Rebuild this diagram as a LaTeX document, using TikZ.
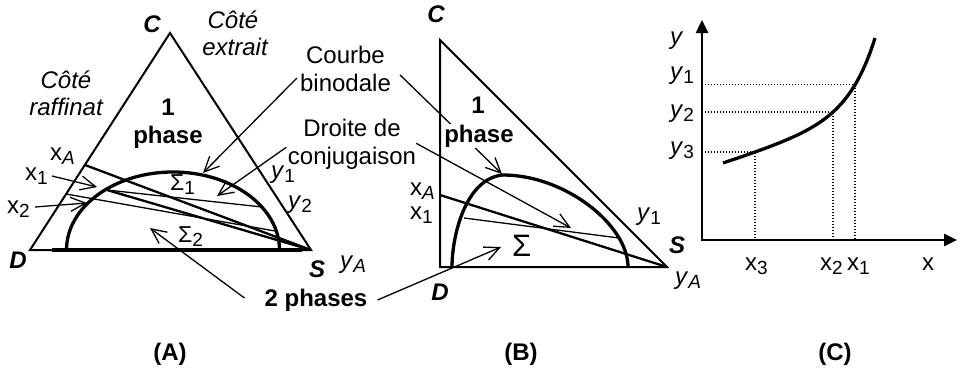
\documentclass[tikz,border=0pt]{standalone}
\usepackage{fontspec}
\setmainfont{Liberation Sans}
\usetikzlibrary{arrows.meta,calc}
\newcommand\lsub[1]{\raisebox{-4pt}{\fontsize{19}{19}\selectfont #1}}
\begin{document}
\begin{tikzpicture}[x=1pt,y=-1pt,
  t/.style={inner sep=0pt, font=\fontsize{24}{27.5}\selectfont},
  tb/.style={inner sep=0pt, font=\fontsize{24}{27.5}\selectfont\bfseries},
  ti/.style={inner sep=0pt, font=\fontsize{24}{27.5}\selectfont\itshape},
  tbi/.style={inner sep=0pt, font=\fontsize{24}{26}\selectfont\bfseries\itshape},
  sig/.style={inner sep=0pt, font=\fontsize{23}{25}\selectfont},
  sigB/.style={inner sep=0pt, font=\fontsize{31}{33}\selectfont},
  tri/.style={line width=2pt, line join=miter},
  binod/.style={line width=3.3pt},
  tiethick/.style={line width=2.3pt},
  tiethin/.style={line width=1.3pt},
  arr/.style={line width=1.3pt, -{Straight Barb[length=15pt,width=14pt]}},
  axis/.style={line width=2.5pt, line join=miter, {Triangle[length=13pt,width=12pt]}-{Triangle[length=13pt,width=12pt]}},
  guide/.style={line width=1.3pt, dash pattern=on 1.3pt off 1.7pt}]
\useasboundingbox (0,0) rectangle (958,380);
\fill[white] (0,0) rectangle (958,380);

%%%%%%%% Panel A
\coordinate (AC) at (170,33);
\coordinate (AD) at (30,250);
\coordinate (AS) at (311,250);
\coordinate (AB1) at (52,250);
\coordinate (AB2) at (302,250);
\draw[tri] (AD) -- (AC) -- (AS) -- cycle;
\draw[line width=4pt] (AB1) -- (AB2);
\draw[binod] (66.5,250) arc[start angle=180, end angle=360, x radius=106.5, y radius=78];
\coordinate (AxA) at (85,165);
\coordinate (Ax1) at (107,190);
\coordinate (Ay1) at (262,207);
\coordinate (Ax2) at (66,194);
\coordinate (Ay2) at (275,231);
\draw[tiethick] (AxA) -- (AS);
\draw[tiethick] (Ax1) -- (AS);
\draw[tiethin] (Ax1) -- (Ay1);
\draw[tiethin] (Ax2) -- (Ay2);

\node[tbi, anchor=base] (lCA) at (152,32) {C};
\node[ti, anchor=base] (ce1) at (233,28) {Côté};
\node[ti, anchor=base] (ce2) at (235,55) {extrait};
\node[ti, anchor=base] (cr1) at (66,88) {Côté};
\node[ti, anchor=base] (cr2) at (66,115) {raffinat};
\node[tb, anchor=base] (ph1A) at (168,115) {1};
\node[tb, anchor=base] (ph2A) at (168,143) {phase};
\node[t, anchor=base west] (lxAA) at (50,160) {x\lsub{\textit{A}}};
\node[t, anchor=base west] (lx1A) at (25,180) {x\lsub{1}};
\node[t, anchor=base west] (lx2A) at (7,213) {x\lsub{2}};
\node[t, anchor=base west] (ly1A) at (271,178) {\textit{y}\lsub{1}};
\node[t, anchor=base west] (ly2A) at (288,208) {\textit{y}\lsub{2}};
\node[sig, anchor=base west] (s1) at (170,190) {Σ\lsub{1}};
\node[sig, anchor=base west] (s2) at (178,242) {Σ\lsub{2}};
\node[tbi, anchor=base] (lDA) at (18,268) {D};
\node[tbi, anchor=base] (lSA) at (317,277) {S};
\node[t, anchor=base west] (lyAA) at (340,268) {\textit{y}\lsub{\textit{A}}};
\node[t, align=center] (cb) at (345.5,69) {Courbe\\binodale};
\node[t, align=center] (dc) at (352,144.3) {Droite de\\conjugaison};
\node[tb, anchor=base] (tp) at (316,306) {2 phases};
\node[tb, anchor=base] (capA) at (170,360) {(A)};

\coordinate (tx1A) at (97,187);
\coordinate (tx2A) at (87,203);
\coordinate (tcbA) at (203,173);
\coordinate (tdcA) at (217,196);
\coordinate (t2pA) at (150,228);
\draw[arr] ([shift={(4,-4)}]lx1A.base east) -- (tx1A);
\draw[arr] ([shift={(5,-6)}]lx2A.base east) -- (tx2A);
\draw[arr] ([shift={(-3,9)}]cb.west) -- (tcbA);
\draw[arr] ([shift={(-1.5,3)}]dc.west) -- (tdcA);
\draw[arr] ([shift={(-20,-8)}]tp.base west) -- (t2pA);

%%%%%%%% Panel B
\coordinate (BC) at (440,40);
\coordinate (BD) at (440,267);
\coordinate (BS) at (667,267);
\draw[tri] (BC) -- (BD) -- (BS) -- cycle;
\draw[binod] (452,267) .. controls (452,235) and (466,178) .. (503,175)
  .. controls (565,175) and (628,225) .. (628,267);
\coordinate (BxA) at (440,195);
\coordinate (Bx1) at (464,218);
\coordinate (By1) at (619,238);
\draw[tiethick] (BxA) -- (BS);
\draw[tiethin] (Bx1) -- (By1);

\node[tbi, anchor=base] (lCB) at (436,22) {C};
\node[tb, anchor=base] (ph1B) at (478,113) {1};
\node[t, anchor=base west] (lxAB) at (410,195.5) {x\lsub{\textit{A}}};
\node[t, anchor=base west] (lx1B) at (410,219) {x\lsub{1}};
\node[sigB, anchor=base west] (sB) at (512,256) {Σ};
\node[t, anchor=base west] (ly1B) at (637,220.5) {\textit{y}\lsub{1}};
\node[tbi, anchor=base] (lSB) at (677,253) {S};
\node[t, anchor=base west] (lyAB) at (675,284.5) {\textit{y}\lsub{\textit{A}}};
\node[tbi, anchor=base] (lDB) at (440,300) {D};
\node[tb, anchor=base] (capB) at (521,360) {(B)};

\coordinate (tcbB) at (502,174);
\coordinate (tdcB) at (571,228);
\coordinate (t2pB) at (501,247);
\draw[arr] ([shift={(9,6)}]cb.east) -- (tcbB);
\draw[arr] ([shift={(0,-1)}]dc.east) -- (tdcB);
\draw[arr] ([shift={(10,-6)}]tp.base east) -- (t2pB);
\node[tb, anchor=base, fill=white, inner sep=1pt] (ph2B) at (479,142) {phase};

%%%%%%%% Panel C
\coordinate (O) at (702,240);
\coordinate (Ytop) at (702,20);
\coordinate (Xend) at (957,240);
\draw[axis] (Ytop) -- (O) -- (Xend);
\draw[binod] plot[domain=0:152, samples=90, variable=\t]
  ({723+\t}, {163.2345 - 0.2345*exp(0.038*\t) - 0.3264*\t});
\coordinate (P1) at (855,84.8);
\coordinate (P2) at (833,112);
\coordinate (P3) at (755,152);
\draw[guide] (O |- P1) -- (P1) -- (P1 |- O);
\draw[guide] (O |- P2) -- (P2) -- (P2 |- O);
\draw[guide] (O |- P3) -- (P3) -- (P3 |- O);

\node[t, anchor=base west] (lyC) at (670,44.5) {\textit{y}};
\node[t, anchor=base west] (ly1C) at (670,79.5) {\textit{y}\lsub{1}};
\node[t, anchor=base west] (ly2C) at (670,117.5) {\textit{y}\lsub{2}};
\node[t, anchor=base west] (ly3C) at (670,154.5) {\textit{y}\lsub{3}};
\node[t, anchor=base west] (lx3C) at (745,270) {x\lsub{3}};
\node[t, anchor=base west] (lx2C) at (820,270) {x\lsub{2}};
\node[t, anchor=base west] (lx1C) at (847,270) {x\lsub{1}};
\node[t, anchor=base west] (lxC) at (922,270) {x};
\node[tb, anchor=base] (capC) at (835,360) {(C)};
\end{tikzpicture}
\end{document}
